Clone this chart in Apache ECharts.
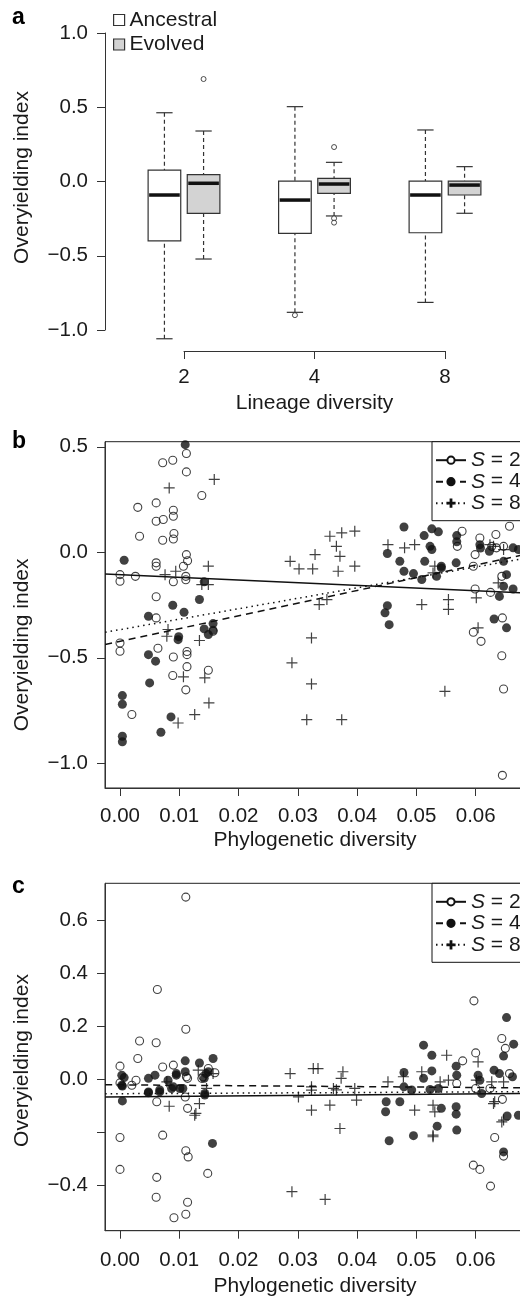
<!DOCTYPE html>
<html lang="en">

<head>
    <meta charset="UTF-8">
    <title>Overyielding</title>
    <script src="https://cdn.jsdelivr.net/npm/echarts@6/dist/echarts.min.js"></script>
    <style>
        body { margin: 0; background: #fff; }
    </style>
</head>

<body>
    <div id="chart" style="width: 520px; height: 1299px;"></div>
    <script type="text/javascript">
        // ---- panel a: boxplots, [low whisker, Q1, median, Q3, high whisker]
        const lineageLevels = ['2', '4', '8'];
        const ancestralStats = [
            [-1.059, -0.400, -0.091, 0.077, 0.463],
            [-0.881, -0.349, -0.125, 0.003, 0.504],
            [-0.814, -0.345, -0.091, 0.003, 0.347]
        ];
        const evolvedStats = [
            [-0.522, -0.214, -0.012, 0.046, 0.340],
            [-0.232, -0.080, -0.017, 0.021, 0.129],
            [-0.214, -0.091, -0.024, 0.003, 0.100]
        ];
        // outliers: [group index, value]
        const ancestralOutliers = [[1, 1.004], [1, -0.900]];
        const evolvedOutliers = [[0, 0.690], [1, 0.232], [1, -0.248], [1, -0.277], [2, -0.434], [2, -0.461], [2, -0.600]];

        // ---- panel b: phylogenetic diversity vs overyielding (ancestral)
        const bS2 = [
            [0.0000, -0.106], [0.0000, -0.137], [0.0026, -0.114], [0.0030, 0.213], [0.0033, 0.076], [0.0000, -0.430], [0.0000, -0.469], [0.0020, -0.769],
            [0.0061, 0.234], [0.0061, 0.147], [0.0073, 0.155], [0.0072, 0.424], [0.0089, 0.436], [0.0072, 0.057], [0.0090, 0.199], [0.0090, 0.171], [0.0091, 0.089], [0.0090, 0.063],
            [0.0061, -0.050], [0.0061, -0.066], [0.0061, -0.211], [0.0061, -0.311], [0.0064, -0.455], [0.0090, -0.140], [0.0090, -0.496], [0.0089, -0.584],
            [0.0112, -0.011], [0.0114, -0.040], [0.0107, -0.066], [0.0111, -0.114], [0.0111, -0.130], [0.0112, 0.468], [0.0112, 0.381], [0.0138, 0.269],
            [0.0113, -0.470], [0.0113, -0.485], [0.0113, -0.542], [0.0111, -0.652], [0.0149, -0.559], [0.0157, -0.374],
            [0.0577, 0.100], [0.0569, 0.028], [0.0607, 0.068], [0.0634, 0.084], [0.0657, 0.123], [0.0599, -0.011], [0.0596, -0.066], [0.0635, 0.021],
            [0.0647, 0.028], [0.0644, -0.114], [0.0599, -0.174], [0.0625, -0.190], [0.0645, -0.311], [0.0596, -0.379], [0.0609, -0.422], [0.0644, -0.490],
            [0.0647, -0.648], [0.0645, -1.057], [0.0627, 0.028]
        ];
        const bS4 = [
            [0.0007, -0.038], [0.0004, -0.679], [0.0004, -0.720], [0.0004, -0.872], [0.0004, -0.898], [0.0048, -0.303], [0.0048, -0.485], [0.0060, -0.516],
            [0.0050, -0.619], [0.0069, -0.853], [0.0086, -0.780], [0.0089, -0.251], [0.0108, -0.284], [0.0098, -0.414], [0.0099, -0.400], [0.0110, 0.510],
            [0.0134, -0.224], [0.0142, -0.140], [0.0142, -0.363], [0.0149, -0.390], [0.0157, -0.338], [0.0157, -0.370],
            [0.0479, 0.120], [0.0526, 0.111], [0.0537, 0.097], [0.0513, 0.079], [0.0568, 0.079], [0.0568, 0.050], [0.0523, 0.028], [0.0526, 0.013],
            [0.0451, -0.006], [0.0472, -0.043], [0.0514, -0.043], [0.0479, -0.090], [0.0495, -0.101], [0.0509, -0.129], [0.0542, -0.066], [0.0534, -0.114],
            [0.0567, -0.050], [0.0542, -0.074], [0.0451, -0.253], [0.0447, -0.287], [0.0454, -0.343],
            [0.0607, 0.036], [0.0608, 0.020], [0.0623, 0.005], [0.0663, 0.021], [0.0672, 0.013], [0.0647, -0.043], [0.0652, -0.106], [0.0647, -0.161],
            [0.0663, -0.174], [0.0640, -0.209], [0.0631, -0.316], [0.0652, -0.358]
        ];
        const bS8 = [
            [0.0083, 0.305], [0.0159, 0.345], [0.0076, -0.106], [0.0094, -0.090], [0.0149, -0.066], [0.0138, -0.153], [0.0149, -0.153], [0.0079, -0.398],
            [0.0081, -0.366], [0.0134, -0.418], [0.0107, -0.590], [0.0143, -0.595], [0.0150, -0.714], [0.0126, -0.769], [0.0098, -0.809],
            [0.0354, 0.076], [0.0374, 0.092], [0.0396, 0.100], [0.0365, 0.028], [0.0329, -0.011], [0.0371, -0.019], [0.0287, -0.043], [0.0302, -0.079],
            [0.0325, -0.079], [0.0368, -0.090], [0.0396, -0.066], [0.0336, -0.248], [0.0349, -0.224], [0.0323, -0.406], [0.0290, -0.524], [0.0323, -0.624],
            [0.0315, -0.793], [0.0374, -0.793],
            [0.0452, 0.036], [0.0480, 0.021], [0.0497, 0.036], [0.0509, -0.248], [0.0554, -0.224], [0.0554, -0.271], [0.0548, -0.659], [0.0601, -0.216],
            [0.0531, -0.066], [0.0528, -0.098], [0.0630, 0.028], [0.0647, 0.013], [0.0638, -0.145], [0.0604, -0.358], [0.0624, 0.036]
        ];
        // fitted lines, two end points each
        const bFit2 = [[-0.0025, -0.103], [0.070, -0.195]];
        const bFit4 = [[-0.0025, -0.437], [0.070, 0.000]];
        const bFit8 = [[-0.0025, -0.379], [0.070, -0.020]];

        // ---- panel c: phylogenetic diversity vs overyielding (evolved)
        const cS2 = [
            [0.0111, 0.686], [0.0063, 0.338], [0.0111, 0.188], [0.0033, 0.144], [0.0061, 0.137], [0.0030, 0.078], [0.0000, 0.049], [0.0000, -0.014],
            [0.0020, -0.023], [0.0027, -0.004], [0.0072, 0.046], [0.0090, 0.053], [0.0062, -0.085], [0.0110, -0.067], [0.0114, -0.110], [0.0114, 0.003],
            [0.0138, 0.003], [0.0149, 0.040], [0.0160, 0.024], [0.0000, -0.220], [0.0072, -0.211], [0.0111, -0.270], [0.0115, -0.293], [0.0000, -0.340],
            [0.0148, -0.355], [0.0062, -0.370], [0.0061, -0.445], [0.0114, -0.464], [0.0091, -0.522], [0.0111, -0.509], [0.0112, 0.009], [0.0140, 0.009],
            [0.0597, 0.295], [0.0644, 0.153], [0.0650, 0.116], [0.0600, 0.099], [0.0578, 0.069], [0.0568, -0.016], [0.0600, -0.035], [0.0624, -0.035],
            [0.0657, 0.021], [0.0645, -0.076], [0.0632, -0.220], [0.0647, -0.290], [0.0596, -0.324], [0.0607, -0.340], [0.0625, -0.403]
        ];
        const cS4 = [
            [0.0003, 0.015], [0.0007, 0.006], [0.0004, -0.026], [0.0004, -0.082], [0.0003, -0.023], [0.0048, 0.003], [0.0048, -0.051], [0.0048, -0.048],
            [0.0059, 0.015], [0.0067, -0.048], [0.0067, -0.041], [0.0087, -0.035], [0.0095, 0.015], [0.0095, 0.021], [0.0110, 0.069], [0.0110, 0.028],
            [0.0106, -0.035], [0.0101, -0.035], [0.0134, 0.061], [0.0142, 0.003], [0.0149, 0.028], [0.0145, 0.021], [0.0157, 0.078], [0.0143, -0.060],
            [0.0143, -0.054], [0.0156, -0.242], [0.0081, -0.004], [0.0090, -0.029],
            [0.0512, 0.128], [0.0526, 0.090], [0.0479, 0.025], [0.0479, -0.029], [0.0492, -0.041], [0.0512, 0.003], [0.0526, 0.031], [0.0523, -0.039],
            [0.0537, -0.035], [0.0449, -0.085], [0.0448, -0.123], [0.0472, -0.085], [0.0454, -0.232], [0.0495, -0.213], [0.0542, -0.110], [0.0535, -0.177],
            [0.0567, -0.104], [0.0567, -0.132], [0.0568, -0.192], [0.0567, 0.049], [0.0568, 0.015], [0.0604, 0.015], [0.0607, -0.004], [0.0610, -0.054],
            [0.0631, 0.034], [0.0640, 0.021], [0.0652, 0.232], [0.0664, 0.132], [0.0647, 0.087], [0.0662, 0.009], [0.0653, -0.139], [0.0672, -0.136],
            [0.0647, -0.274]
        ];
        const cS8 = [
            [0.0083, -0.102], [0.0128, -0.129], [0.0134, -0.092], [0.0132, 0.034], [0.0146, -0.035], [0.0157, 0.021], [0.0079, -0.010], [0.0126, -0.136],
            [0.0287, 0.021], [0.0326, 0.040], [0.0334, 0.040], [0.0376, 0.028], [0.0373, 0.003], [0.0301, -0.067], [0.0323, -0.041], [0.0323, -0.117],
            [0.0354, -0.098], [0.0360, -0.035], [0.0365, -0.040], [0.0396, -0.035], [0.0399, -0.079], [0.0371, -0.186], [0.0323, -0.029], [0.0290, -0.424],
            [0.0346, -0.453],
            [0.0452, -0.010], [0.0478, 0.009], [0.0509, 0.028], [0.0497, -0.117], [0.0528, -0.098], [0.0531, -0.123], [0.0528, -0.211], [0.0551, 0.090],
            [0.0554, -0.004], [0.0540, -0.010], [0.0604, 0.065], [0.0601, -0.004], [0.0627, -0.010], [0.0647, -0.010], [0.0632, -0.085], [0.0647, -0.154],
            [0.0630, -0.092], [0.0644, -0.161], [0.0528, -0.217]
        ];
        const cFit2 = [[-0.0025, -0.067], [0.070, -0.054]];
        const cFit4 = [[-0.0025, -0.021], [0.070, -0.033]];
        const cFit8 = [[-0.0025, -0.055], [0.070, -0.047]];

        const pdTicks = [0, 0.01, 0.02, 0.03, 0.04, 0.05, 0.06];

        // ---- styling helpers
        const FONT = 'Liberation Sans';
        const INK = '#1a1a1a';
        const AXIS = '#333';
        const plusPath = 'path://M4.9,0H6.1V4.9H11V6.1H6.1V11H4.9V6.1H0V4.9H4.9Z';
        const boxHalf = 0.125, capHalf = 0.0625, groupShift = 0.15;

        function fmtNum(v, digits) {
            const s = Math.abs(v).toFixed(digits);
            return (v < -1e-9 ? '\u2212' : '') + s;
        }

        function makeBoxRender(fill) {
            return function (params, api) {
                const x = api.value(0);
                const lo = api.coord([x, api.value(1)]);
                const q1 = api.coord([x, api.value(2)]);
                const yMed = api.coord([x, api.value(3)])[1];
                const q3 = api.coord([x, api.value(4)]);
                const hi = api.coord([x, api.value(5)]);
                const left = api.coord([x - boxHalf, 0])[0];
                const right = api.coord([x + boxHalf, 0])[0];
                const capL = api.coord([x - capHalf, 0])[0];
                const capR = api.coord([x + capHalf, 0])[0];
                const thin = { stroke: AXIS, lineWidth: 1.2 };
                return {
                    type: 'group',
                    children: [
                        { type: 'line', shape: { x1: hi[0], y1: hi[1], x2: q3[0], y2: q3[1] }, style: { stroke: AXIS, lineWidth: 1.2, lineDash: [4, 3] } },
                        { type: 'line', shape: { x1: lo[0], y1: lo[1], x2: q1[0], y2: q1[1] }, style: { stroke: AXIS, lineWidth: 1.2, lineDash: [4, 3] } },
                        { type: 'line', shape: { x1: capL, y1: hi[1], x2: capR, y2: hi[1] }, style: thin },
                        { type: 'line', shape: { x1: capL, y1: lo[1], x2: capR, y2: lo[1] }, style: thin },
                        { type: 'rect', shape: { x: left, y: q3[1], width: right - left, height: q1[1] - q3[1] }, style: { fill: fill, stroke: AXIS, lineWidth: 1.2 } },
                        { type: 'line', shape: { x1: left + 1, y1: yMed, x2: right - 1, y2: yMed }, style: { stroke: '#111', lineWidth: 3.5 } }
                    ]
                };
            };
        }

        function boxRows(stats, shift) {
            return stats.map((s, i) => [i + 1 + shift].concat(s));
        }
        function outlierRows(list, shift) {
            return list.map(o => [o[0] + 1 + shift, o[1]]);
        }

        const axisLineStyle = { show: true, onZero: false, lineStyle: { color: AXIS, width: 1 } };
        const tickStyle = { show: true, inside: false, length: 8, lineStyle: { color: AXIS, width: 1 } };
        const labelStyle = { color: INK, fontSize: 20.5, fontFamily: FONT };
        const nameStyle = { color: INK, fontSize: 21, fontFamily: FONT };

        function pdAxis(gridIndex, margin, gap) {
            return {
                type: 'value', gridIndex: gridIndex, min: -0.00253, max: 0.07,
                axisLine: axisLineStyle, splitLine: { show: false },
                axisTick: Object.assign({ customValues: pdTicks }, tickStyle),
                axisLabel: Object.assign({ customValues: pdTicks, margin: margin, formatter: v => v.toFixed(2) }, labelStyle),
                name: 'Phylogenetic diversity', nameLocation: 'middle', nameGap: gap,
                nameTextStyle: Object.assign({ padding: [0, 10, 0, 0] }, nameStyle)
            };
        }

        function fitSeries(name, data, axisIdx, symbol, symbolSize, dash) {
            return {
                name: name, type: 'line', xAxisIndex: axisIdx, yAxisIndex: axisIdx, data: data,
                symbol: symbol, symbolSize: symbolSize, showSymbol: false, silent: true, z: 4,
                lineStyle: { color: '#111', width: 1.5, type: dash },
                itemStyle: { color: '#111', borderColor: '#111', borderWidth: 1 }
            };
        }
        function pointSeries(id, data, axisIdx, kind) {
            const s = { id: id, type: 'scatter', xAxisIndex: axisIdx, yAxisIndex: axisIdx, data: data, silent: true, z: 3 };
            if (kind === 'open') {
                s.symbol = 'circle'; s.symbolSize = 8;
                s.itemStyle = { color: 'rgba(0,0,0,0)', borderColor: '#111', borderWidth: 1.1 };
            } else if (kind === 'filled') {
                s.symbol = 'circle'; s.symbolSize = 9;
                s.itemStyle = { color: '#111', borderWidth: 0 };
            } else {
                s.symbol = plusPath; s.symbolSize = 11;
                s.itemStyle = { color: '#111', borderWidth: 0 };
            }
            return s;
        }

        function sLegend(top) {
            return {
                orient: 'vertical', left: 432, top: top,
                data: ['S = 2', 'S = 4', 'S = 8'],
                itemWidth: 30, itemHeight: 9, itemGap: 0.5,
                padding: [8, 14, 7, 3],
                borderColor: '#111', borderWidth: 1, backgroundColor: '#fff',
                selectedMode: false,
                formatter: name => '{it|S}' + name.slice(1),
                textStyle: {
                    color: INK, fontSize: 21, fontFamily: FONT, lineHeight: 20,
                    rich: { it: { fontStyle: 'italic', fontSize: 21, fontFamily: FONT, lineHeight: 20, color: INK } }
                }
            };
        }

        const chart = echarts.init(document.getElementById('chart'));
        chart.setOption({
            animation: false,
            textStyle: { fontFamily: FONT },
            graphic: [
                { type: 'text', x: 12, y: 18, style: { text: 'a', font: 'bold 23px Liberation Sans', fill: '#000', textVerticalAlign: 'middle' } },
                { type: 'text', x: 12, y: 442, style: { text: 'b', font: 'bold 23px Liberation Sans', fill: '#000', textVerticalAlign: 'middle' } },
                { type: 'text', x: 12, y: 887, style: { text: 'c', font: 'bold 23px Liberation Sans', fill: '#000', textVerticalAlign: 'middle' } }
            ],
            legend: [
                {
                    orient: 'vertical', left: 113, top: 8,
                    data: [
                        { name: 'Ancestral', icon: 'rect', itemStyle: { color: '#fff', borderColor: AXIS, borderWidth: 1.2 } },
                        { name: 'Evolved', icon: 'rect', itemStyle: { color: '#d3d3d3', borderColor: AXIS, borderWidth: 1.2 } }
                    ],
                    itemWidth: 11, itemHeight: 11, itemGap: 0.5, padding: 0, selectedMode: false,
                    textStyle: { color: INK, fontSize: 21, fontFamily: FONT, lineHeight: 24 }
                },
                sLegend(441.7),
                sLegend(883.3)
            ],
            grid: [
                { left: 184, top: 33, width: 261, height: 297, outerBoundsMode: 'none' },
                { left: 105, top: 441.7, width: 430, height: 346.3, outerBoundsMode: 'none', show: true, borderColor: '#222', borderWidth: 1 },
                { left: 105, top: 883.3, width: 430, height: 347.4, outerBoundsMode: 'none', show: true, borderColor: '#222', borderWidth: 1 }
            ],
            xAxis: [
                {
                    type: 'value', gridIndex: 0, min: 1, max: 3, interval: 1, offset: 21,
                    axisLine: axisLineStyle, axisTick: tickStyle, splitLine: { show: false },
                    axisLabel: Object.assign({ margin: 16, formatter: v => lineageLevels[Math.round(v) - 1] }, labelStyle),
                    name: 'Lineage diversity', nameLocation: 'middle', nameGap: 42, nameTextStyle: nameStyle
                },
                pdAxis(1, 18, 42),
                pdAxis(2, 19, 45)
            ],
            yAxis: [
                {
                    type: 'value', gridIndex: 0, min: -1, max: 1, interval: 0.5, offset: 79,
                    axisLine: axisLineStyle, axisTick: tickStyle, splitLine: { show: false },
                    axisLabel: Object.assign({ margin: 17, formatter: v => fmtNum(v, 1) }, labelStyle),
                    name: 'Overyielding index', nameLocation: 'middle', nameGap: 72,
                    nameTextStyle: Object.assign({ padding: [0, 0, 0, 8] }, nameStyle)
                },
                {
                    type: 'value', gridIndex: 1, min: -1.117, max: 0.524,
                    axisLine: axisLineStyle, splitLine: { show: false },
                    axisTick: Object.assign({ customValues: [-1, -0.5, 0, 0.5] }, tickStyle),
                    axisLabel: Object.assign({ customValues: [-1, -0.5, 0, 0.5], margin: 17, formatter: v => fmtNum(v, 1) }, labelStyle),
                    name: 'Overyielding index', nameLocation: 'middle', nameGap: 72,
                    nameTextStyle: Object.assign({ padding: [0, 60, 0, 0] }, nameStyle)
                },
                {
                    type: 'value', gridIndex: 2, min: -0.571, max: 0.738,
                    axisLine: axisLineStyle, splitLine: { show: false },
                    axisTick: Object.assign({ customValues: [-0.4, -0.2, 0, 0.2, 0.4, 0.6] }, tickStyle),
                    axisLabel: Object.assign({ customValues: [-0.4, 0, 0.2, 0.4, 0.6], margin: 17, formatter: v => fmtNum(v, 1) }, labelStyle),
                    name: 'Overyielding index', nameLocation: 'middle', nameGap: 72,
                    nameTextStyle: Object.assign({ padding: [0, 7, 0, 0] }, nameStyle)
                }
            ],
            series: [
                // panel a
                {
                    name: 'Ancestral', type: 'custom', xAxisIndex: 0, yAxisIndex: 0, clip: false,
                    renderItem: makeBoxRender('#fff'), encode: { x: 0, y: [1, 2, 3, 4, 5] },
                    itemStyle: { color: '#fff', borderColor: AXIS },
                    data: boxRows(ancestralStats, -groupShift)
                },
                {
                    name: 'Evolved', type: 'custom', xAxisIndex: 0, yAxisIndex: 0, clip: false,
                    renderItem: makeBoxRender('#d3d3d3'), encode: { x: 0, y: [1, 2, 3, 4, 5] },
                    itemStyle: { color: '#d3d3d3', borderColor: AXIS },
                    data: boxRows(evolvedStats, groupShift)
                },
                {
                    id: 'a-out', type: 'scatter', xAxisIndex: 0, yAxisIndex: 0, symbol: 'circle', symbolSize: 5, silent: true,
                    itemStyle: { color: '#fff', borderColor: '#222', borderWidth: 1 },
                    data: outlierRows(ancestralOutliers, -groupShift).concat(outlierRows(evolvedOutliers, groupShift))
                },
                // panel b
                fitSeries('S = 2', bFit2, 1, 'emptyCircle', 8, 'solid'),
                fitSeries('S = 4', bFit4, 1, 'circle', 9, [7, 5]),
                fitSeries('S = 8', bFit8, 1, plusPath, 11, [1.5, 4]),
                pointSeries('b2', bS2, 1, 'open'),
                pointSeries('b4', bS4, 1, 'filled'),
                pointSeries('b8', bS8, 1, 'plus'),
                // panel c
                fitSeries('S = 2', cFit2, 2, 'emptyCircle', 8, 'solid'),
                fitSeries('S = 4', cFit4, 2, 'circle', 9, [7, 5]),
                fitSeries('S = 8', cFit8, 2, plusPath, 11, [1.5, 4]),
                pointSeries('c2', cS2, 2, 'open'),
                pointSeries('c4', cS4, 2, 'filled'),
                pointSeries('c8', cS8, 2, 'plus')
            ]
        });
    </script>
</body>

</html>
